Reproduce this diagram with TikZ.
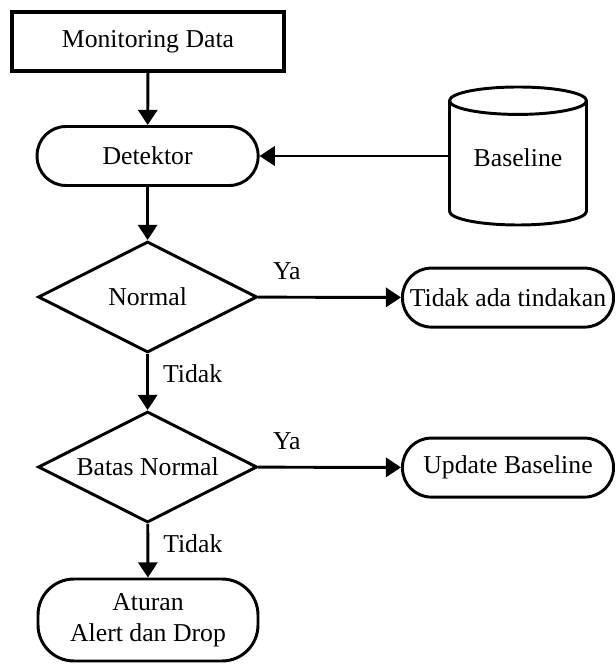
\documentclass[tikz,border=0pt]{standalone}
\usepackage{fontspec}
\setmainfont{Liberation Serif}
\usetikzlibrary{shapes.geometric,arrows.meta}

\begin{document}
\begin{tikzpicture}[
	font=\fontsize{18.3}{22}\selectfont,
	line width=2.1pt,
	proc/.style={draw=black, rectangle, line width=2.5pt, minimum width=6.8cm, minimum height=1.475cm},
	term/.style={draw=black, rectangle, rounded corners=0.72cm, minimum height=1.475cm, align=center},
	cond/.style={draw=black, diamond, inner sep=0pt, minimum width=5.475cm, minimum height=2.775cm},
	store/.style={draw=black, cylinder, shape border rotate=90, aspect=0.28, text depth=0.45cm, minimum width=3.425cm, minimum height=3.45cm, anchor=shape center},
	flow/.style={-{Triangle[length=0.38cm,width=0.48cm]}},
	lbl/.style={inner sep=0pt}
]
	\useasboundingbox (0,0) rectangle (15.375,16.6);

	\node[proc] (mon) at (3.7, 15.56) {Monitoring Data};
	\node[term, minimum width=5.525cm] (det) at (3.69, 12.7) {Detektor};
	\node[store] (base) at (12.95, 12.7) {Baseline};
	\node[cond] (norm) at (3.69, 9.175) {\makebox[0pt]{Normal}};
	\node[term, minimum width=5.275cm] (none) at (12.7, 9.16) {Tidak ada tindakan};
	\node[cond] (bat) at (3.69, 4.925) {\makebox[0pt]{Batas Normal}};
	\node[term, minimum width=5.275cm] (upd) at (12.7, 4.91) {Update Baseline};
	\node[term, minimum width=5.5cm, minimum height=2.05cm, rounded corners=0.9cm] (rule) at (3.7, 1.1) {Aturan\\Alert dan Drop};

	\path[flow] (base.west |- det.east) edge (det.east);
	\path[flow] (mon) edge (det);
	\path[flow] (det) edge (norm);
	\path[flow] (norm) edge node[lbl, pos=0.2, above=0.4cm]{Ya} (none);
	\path[flow] (norm) edge node[lbl, pos=0.36, right=0.35cm]{Tidak} (bat);
	\path[flow] (bat) edge node[lbl, pos=0.2, above=0.4cm]{Ya} (upd);
	\path[flow] (bat) edge node[lbl, pos=0.36, right=0.35cm]{Tidak} (rule);

\end{tikzpicture}
\end{document}
